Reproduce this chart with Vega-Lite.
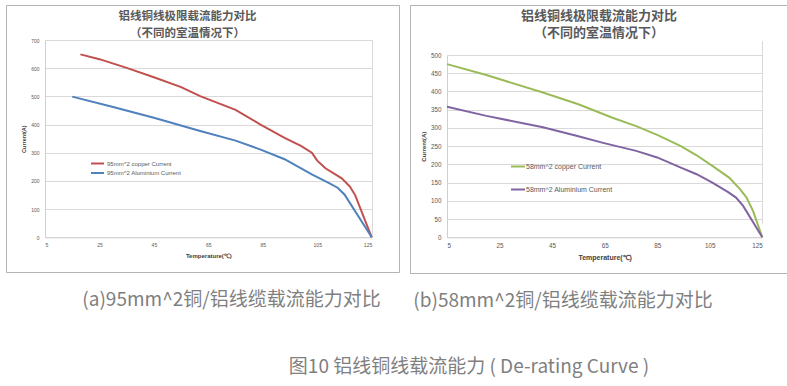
{
  "$schema": "https://vega.github.io/schema/vega-lite/v6.json",
  "padding": {"left": 5, "top": 4, "right": 0, "bottom": 8},
  "background": "white",
  "config": {
    "view": {"stroke": "#b3b3b3", "strokeWidth": 1},
    "axis": {"labelFont": "Liberation Sans", "titleFont": "Liberation Sans", "labelColor": "#595959", "titleColor": "#404040", "domainColor": "#d0d0d0", "gridColor": "#d9d9d9", "ticks": false},
    "legend": {"labelFont": "Liberation Sans", "labelColor": "#595959"}
  },
  "resolve": {"scale": {"color": "independent"}, "legend": {"color": "independent"}},
  "datasets": {
    "a": [
      {"series": "95mm^2 copper Current", "T": 18, "I": 649},
      {"series": "95mm^2 copper Current", "T": 25, "I": 632},
      {"series": "95mm^2 copper Current", "T": 35, "I": 601},
      {"series": "95mm^2 copper Current", "T": 45, "I": 568},
      {"series": "95mm^2 copper Current", "T": 55, "I": 533},
      {"series": "95mm^2 copper Current", "T": 62, "I": 501},
      {"series": "95mm^2 copper Current", "T": 75, "I": 452},
      {"series": "95mm^2 copper Current", "T": 84, "I": 401},
      {"series": "95mm^2 copper Current", "T": 93, "I": 353},
      {"series": "95mm^2 copper Current", "T": 99, "I": 324},
      {"series": "95mm^2 copper Current", "T": 103, "I": 300},
      {"series": "95mm^2 copper Current", "T": 105, "I": 272},
      {"series": "95mm^2 copper Current", "T": 108, "I": 245},
      {"series": "95mm^2 copper Current", "T": 114, "I": 209},
      {"series": "95mm^2 copper Current", "T": 117, "I": 180},
      {"series": "95mm^2 copper Current", "T": 119, "I": 148},
      {"series": "95mm^2 copper Current", "T": 125, "I": 0},
      {"series": "95mm^2 Aluminium Current", "T": 15, "I": 499},
      {"series": "95mm^2 Aluminium Current", "T": 30, "I": 462},
      {"series": "95mm^2 Aluminium Current", "T": 45, "I": 424},
      {"series": "95mm^2 Aluminium Current", "T": 62, "I": 377},
      {"series": "95mm^2 Aluminium Current", "T": 75, "I": 343},
      {"series": "95mm^2 Aluminium Current", "T": 84, "I": 312},
      {"series": "95mm^2 Aluminium Current", "T": 93, "I": 277},
      {"series": "95mm^2 Aluminium Current", "T": 103, "I": 223},
      {"series": "95mm^2 Aluminium Current", "T": 109, "I": 194},
      {"series": "95mm^2 Aluminium Current", "T": 112.5, "I": 176},
      {"series": "95mm^2 Aluminium Current", "T": 115, "I": 152},
      {"series": "95mm^2 Aluminium Current", "T": 125, "I": 0}
    ],
    "b": [
      {"series": "58mm^2 copper Current", "T": 5, "I": 475},
      {"series": "58mm^2 copper Current", "T": 20, "I": 445},
      {"series": "58mm^2 copper Current", "T": 41.5, "I": 397},
      {"series": "58mm^2 copper Current", "T": 55, "I": 365},
      {"series": "58mm^2 copper Current", "T": 68, "I": 328},
      {"series": "58mm^2 copper Current", "T": 77, "I": 305},
      {"series": "58mm^2 copper Current", "T": 85, "I": 281},
      {"series": "58mm^2 copper Current", "T": 94, "I": 250},
      {"series": "58mm^2 copper Current", "T": 100, "I": 225},
      {"series": "58mm^2 copper Current", "T": 106, "I": 196},
      {"series": "58mm^2 copper Current", "T": 112.5, "I": 163},
      {"series": "58mm^2 copper Current", "T": 116.5, "I": 132},
      {"series": "58mm^2 copper Current", "T": 119, "I": 109},
      {"series": "58mm^2 copper Current", "T": 121.5, "I": 72},
      {"series": "58mm^2 copper Current", "T": 125, "I": 0},
      {"series": "58mm^2 Aluminium Current", "T": 5, "I": 358},
      {"series": "58mm^2 Aluminium Current", "T": 20, "I": 333},
      {"series": "58mm^2 Aluminium Current", "T": 41.5, "I": 302},
      {"series": "58mm^2 Aluminium Current", "T": 55, "I": 277},
      {"series": "58mm^2 Aluminium Current", "T": 64.4, "I": 259},
      {"series": "58mm^2 Aluminium Current", "T": 77, "I": 237},
      {"series": "58mm^2 Aluminium Current", "T": 85, "I": 219},
      {"series": "58mm^2 Aluminium Current", "T": 94, "I": 191},
      {"series": "58mm^2 Aluminium Current", "T": 100, "I": 173},
      {"series": "58mm^2 Aluminium Current", "T": 106, "I": 150},
      {"series": "58mm^2 Aluminium Current", "T": 112, "I": 124},
      {"series": "58mm^2 Aluminium Current", "T": 115, "I": 109},
      {"series": "58mm^2 Aluminium Current", "T": 117.7, "I": 86},
      {"series": "58mm^2 Aluminium Current", "T": 125, "I": 0}
    ]
  },
  "title": {"text": "图10  铝线铜线载流能力 ( De-rating Curve )", "orient": "bottom", "anchor": "middle", "offset": 47, "dx": 72, "font": "Noto Sans CJK SC", "fontSize": 19, "fontWeight": "normal", "color": "#7f7f7f"},
  "spacing": 9,
  "hconcat": [
    {
      "title": {"text": "(a)95mm^2铜/铝线缆载流能力对比", "orient": "bottom", "anchor": "middle", "offset": 18, "dx": 29, "font": "Noto Sans CJK SC", "fontSize": 19, "fontWeight": "normal", "color": "#7f7f7f"},
      "vconcat": [
        {
          "width": 393,
          "height": 267,
          "data": {"name": "a"},
          "title": {"text": ["铝线铜线极限载流能力对比", "（不同的室温情况下）"], "offset": -34, "dx": -15, "font": "Noto Sans CJK SC", "fontSize": 11.5, "lineHeight": 16.5, "fontWeight": "bold", "color": "#595959"},
          "mark": {"type": "line", "strokeWidth": 2},
          "encoding": {
            "x": {"field": "T", "type": "quantitative",
              "scale": {"domain": [5, 125], "range": [39, 365.7], "nice": false, "zero": false},
              "axis": {"values": [5, 25, 45, 65, 85, 105, 125], "offset": -34.7, "labelFontSize": 5, "labelPadding": 5, "title": "Temperature(℃)", "titleFontSize": 6, "titleFontWeight": "bold", "titlePadding": 5, "grid": true, "gridOpacity": {"condition": {"test": "datum.value >= 125", "value": 1}, "value": 0}}},
            "y": {"field": "I", "type": "quantitative",
              "scale": {"domain": [0, 700], "range": [232.3, 35], "nice": false},
              "axis": {"values": [0, 100, 200, 300, 400, 500, 600, 700], "offset": -39, "labelFontSize": 5, "labelPadding": 6, "title": "Current(A)", "titleFontSize": 5.5, "titleFontWeight": "bold", "titlePadding": 4, "grid": true}},
            "color": {"field": "series", "type": "nominal",
              "scale": {"domain": ["95mm^2 copper Current", "95mm^2 Aluminium Current"], "range": ["#c0504d", "#4f81bd"]},
              "legend": {"orient": "none", "legendX": 87, "legendY": 154, "title": null, "padding": 0, "symbolType": "M-2,0H2", "symbolSize": 42, "symbolStrokeWidth": 2, "labelFontSize": 6, "labelOffset": 5, "rowPadding": 0.5}}
          }
        }
      ]
    },
    {
      "title": {"text": "(b)58mm^2铜/铝线缆载流能力对比", "orient": "bottom", "anchor": "middle", "offset": 18, "dx": -36, "font": "Noto Sans CJK SC", "fontSize": 19, "fontWeight": "normal", "color": "#7f7f7f"},
      "vconcat": [
        {
          "width": 378,
          "height": 268,
          "data": {"name": "b"},
          "title": {"text": ["铝线铜线极限载流能力对比", "（不同的室温情况下）"], "offset": -35, "font": "Noto Sans CJK SC", "fontSize": 13, "lineHeight": 17.5, "fontWeight": "bold", "color": "#595959"},
          "mark": {"type": "line", "strokeWidth": 2},
          "encoding": {
            "x": {"field": "T", "type": "quantitative",
              "scale": {"domain": [5, 125], "range": [37, 352.3], "nice": false, "zero": false},
              "axis": {"values": [5, 25, 45, 65, 85, 105, 125], "offset": -35.7, "labelFontSize": 6.3, "labelPadding": 5, "title": "Temperature(℃)", "titleFontSize": 7, "titleFontWeight": "bold", "titlePadding": 5, "grid": true, "gridOpacity": {"condition": {"test": "datum.value >= 125", "value": 1}, "value": 0}}},
            "y": {"field": "I", "type": "quantitative",
              "scale": {"domain": [0, 500], "range": [232.3, 50], "nice": false},
              "axis": {"values": [0, 50, 100, 150, 200, 250, 300, 350, 400, 450, 500], "offset": -37, "labelFontSize": 6.3, "labelPadding": 6, "title": "Current(A)", "titleFontSize": 6, "titleFontWeight": "bold", "titlePadding": 4, "grid": true}},
            "color": {"field": "series", "type": "nominal",
              "scale": {"domain": ["58mm^2 copper Current", "58mm^2 Aluminium Current"], "range": ["#9bbb59", "#8064a2"]},
              "legend": {"orient": "none", "legendX": 100, "legendY": 153.5, "title": null, "padding": 0, "symbolType": "stroke", "symbolSize": 196, "symbolStrokeWidth": 2, "labelFontSize": 7, "labelOffset": 0, "rowPadding": 11}}
          }
        }
      ]
    }
  ]
}
